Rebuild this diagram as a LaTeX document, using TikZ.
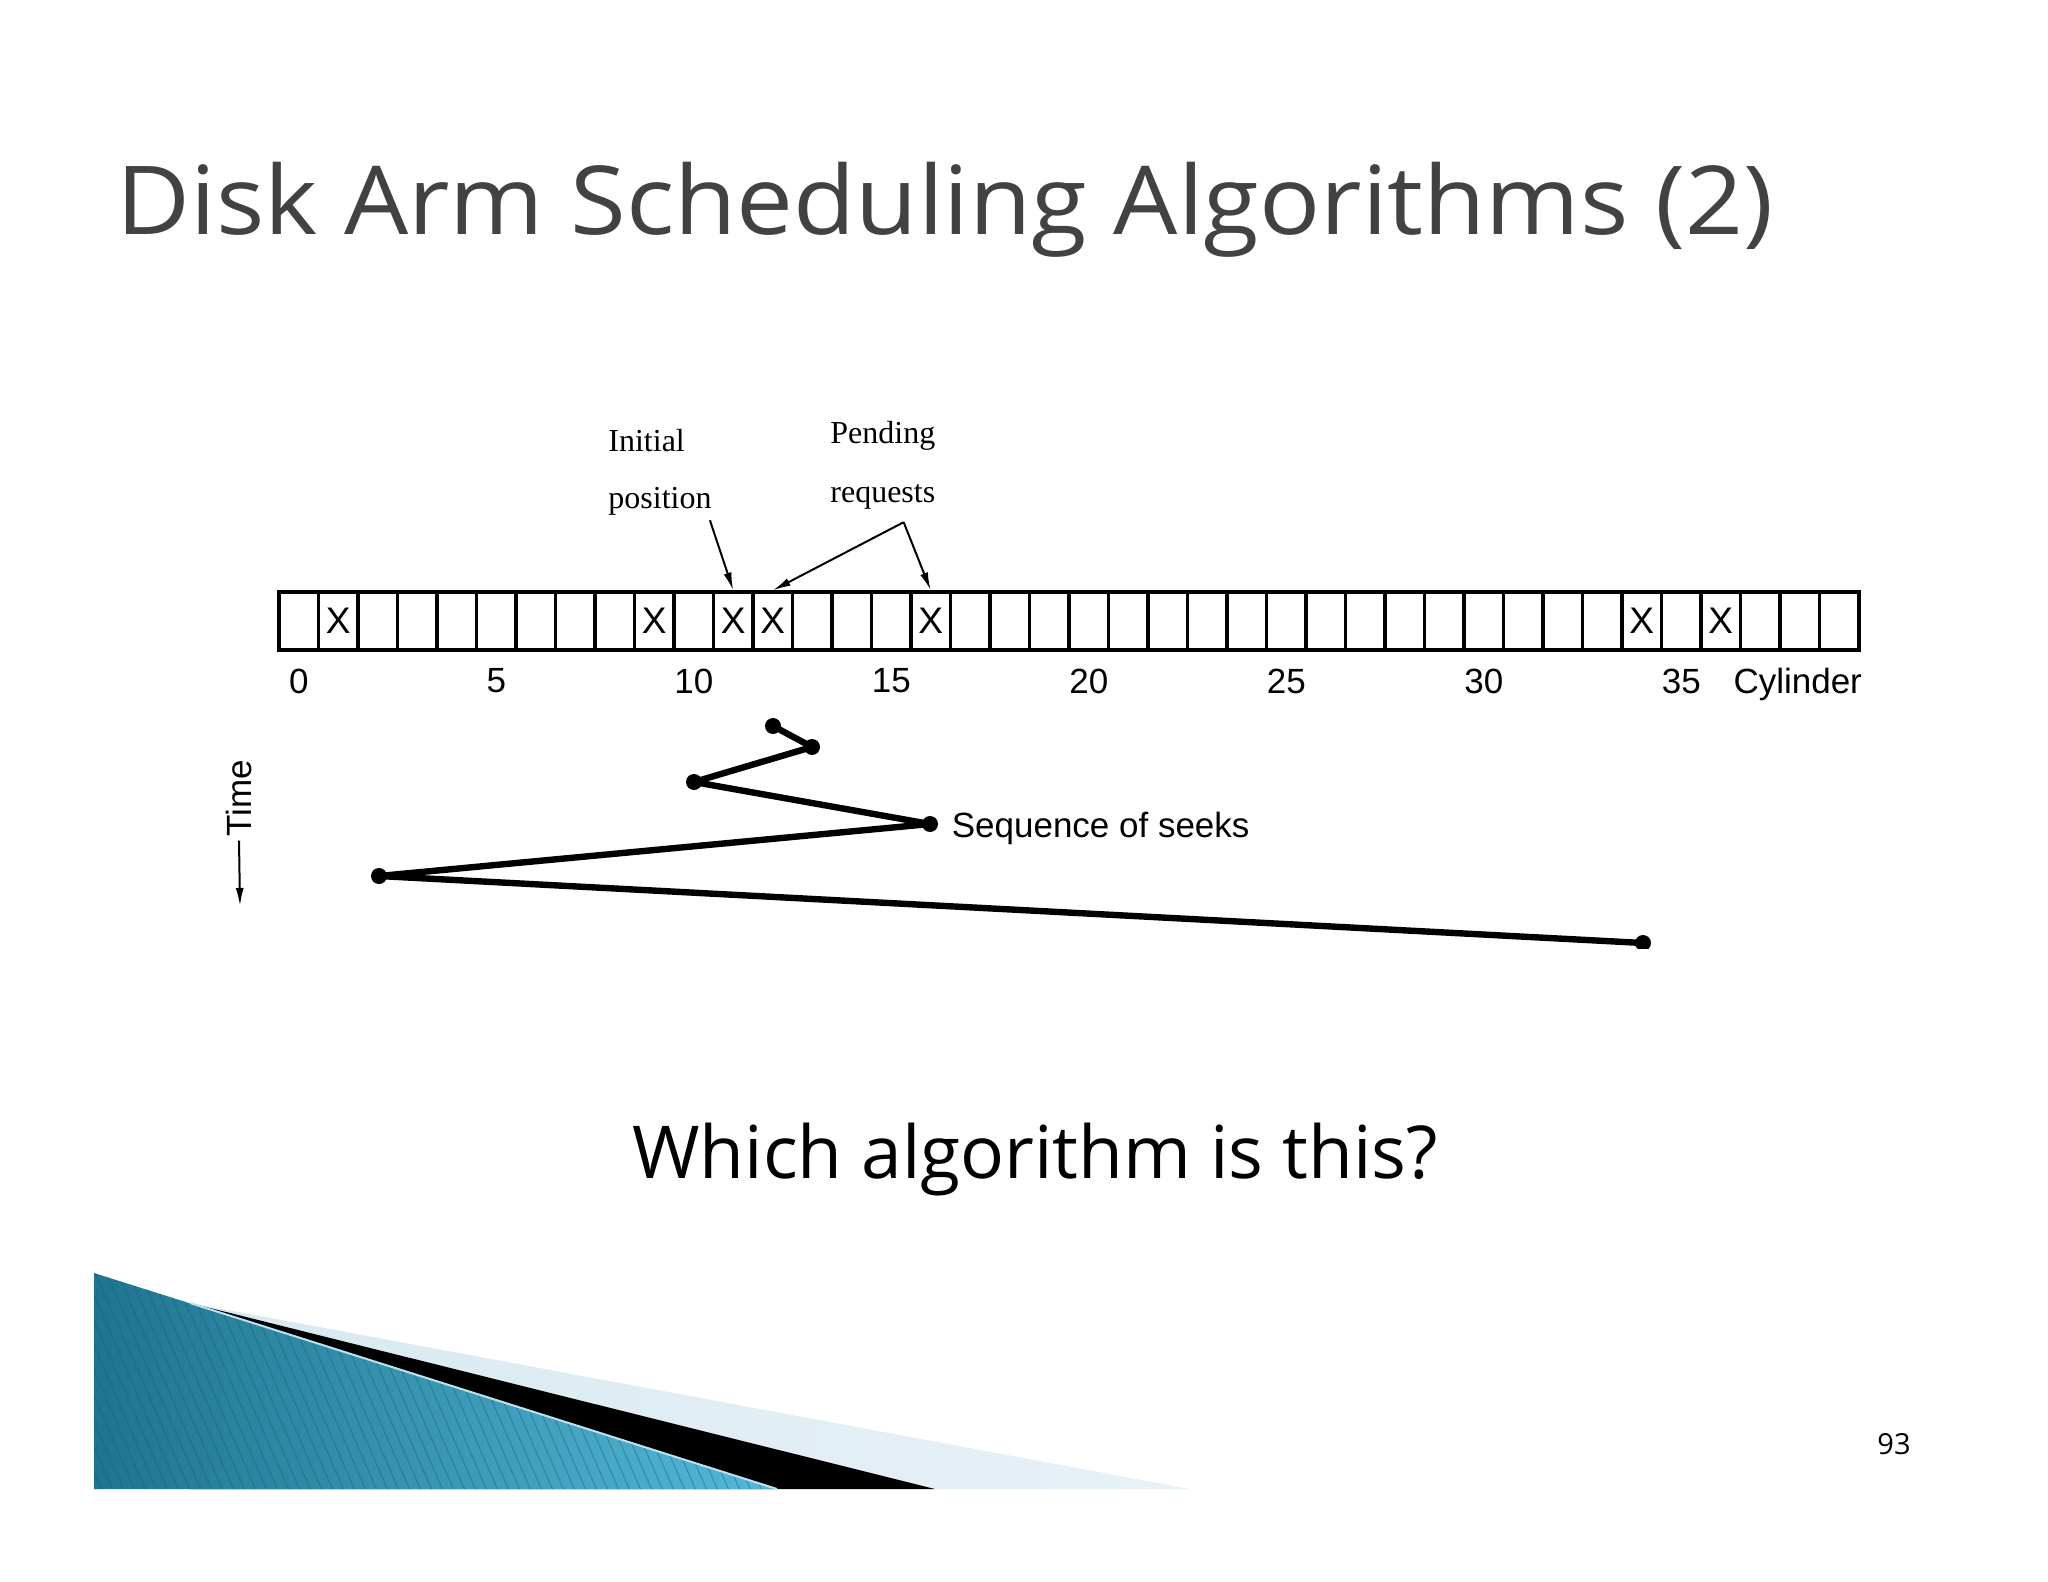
\documentclass[tikz,border=0pt]{standalone}
\usepackage{fontspec}
\usepackage{tikz}
\usetikzlibrary{matrix}
\usetikzlibrary{positioning}
\usetikzlibrary{arrows.meta}
\newfontfamily\slidefont{Open Sans}
\newfontfamily\titlefont[FakeStretch=1.066]{Open Sans}
\newfontfamily\figfont{Liberation Sans}
\newfontfamily\labfont{Liberation Serif}
\definecolor{tealdark}{HTML}{1F7590}
\definecolor{teallight}{HTML}{55B8D8}
\definecolor{palecyan}{HTML}{D8E9F1}
\definecolor{titlegray}{HTML}{424242}
\tikzset{fig/.style={font=\figfont\fontsize{17.5}{21}\selectfont, inner sep=2pt}}
\tikzset{lbl/.style={font=\labfont\fontsize{16}{19}\selectfont, inner sep=2pt}}
\tikzset{arr/.style={-{Latex[length=9pt,width=4pt]}, line width=1pt}}
\tikzset{dot/.style={circle, fill, inner sep=0pt, minimum size=8pt}}
\tikzset{seek/.style={line width=3.2pt, line join=round}}
\tikzset{cyl/.style = {
   matrix of nodes, nodes in empty cells,
   nodes={draw, line width=1.6pt, minimum width=19.75pt, minimum height=29pt,
          inner sep=0pt, anchor=center, font=\figfont\fontsize{18.5}{22}\selectfont},
   column sep=-1.6pt,
   inner sep=0pt, anchor=west
}}

\begin{document}
\begin{tikzpicture}[x=0.5pt, y=-0.5pt]

    \fill[white] (0,0) rectangle (2048,1582);
    \useasboundingbox (0,0) rectangle (2048,1582);

    \node[anchor=base west, inner sep=0pt, text=titlegray] (title) at (116,235)
        {\titlefont\fontsize{47.6}{57}\selectfont Disk Arm Scheduling Algorithms (2)};

    \matrix[cyl] (m) at (277,621) {
      & X & & & & & & & & X
      & & X & X & & & & X & & &
      & & & & & & & & & &
      & & & & & X & & X & & & \\
    };

    \foreach \n [evaluate=\n as \col using int(\n+1)] in {0,5,...,35}
        \node[fig, below=6.3pt of m-1-\col] (n\n) {\n};
    \node[fig, base right=12pt of n35] (cyl) {Cylinder};

    % labels above the track
    \node[lbl, anchor=base west] (init1) at (604,452) {Initial};
    \node[lbl, anchor=base west] (init2) at (604,509) {position};
    \node[lbl, anchor=base west] (req1) at (826,444) {Pending};
    \node[lbl, anchor=base west] (req2) at (826,503) {requests};
    \coordinate (fork) at ([xshift=-18pt,yshift=-4pt]req2.south east);

    \draw[arr] ([xshift=-3pt]init2.south east) -- (m-1-12.north);
    \draw[arr] (fork) -- (m-1-13.north);
    \draw[arr] (fork) -- (m-1-17.north);

    % time axis
    \node[fig, rotate=90] (time) at (239,798) {Time};
    \coordinate (tend) at (240,906);
    \draw[arr] (time.west) -- (tend);

    % seeks
    \begin{scope}
      \clip (0,0) rectangle (2048,948);
      \node[dot] (s0) at (773,726) {};
      \node[dot] (s1) at (812,747) {};
      \node[dot] (s2) at (694,782) {};
      \node[dot] (s3) at (930,824) {};
      \node[dot] (s4) at (379,876) {};
      \node[dot] (s5) at (1643,943) {};
      \draw[seek] (s0.center) -- (s1.center) -- (s2.center) -- (s3.center)
                  -- (s4.center) -- (s5.center);
    \end{scope}
    \node[fig, right=4.5pt of s3, yshift=-2pt] (seq) {Sequence of seeks};

    \node[anchor=base, inner sep=0pt] (quest) at (1035,1178)
        {\slidefont\fontsize{36.5}{44}\selectfont Which algorithm is this?};

    \node (page) at (1894,1444) {\slidefont\fontsize{14.5}{17}\selectfont 93};

    % corner decoration
    \shade[left color=palecyan, right color=palecyan!60!white]
        (190,1303) -- (1190,1489) -- (190,1489) -- cycle;
    \fill[black] (190,1303) -- (935,1489) -- (190,1489) -- cycle;
    \begin{scope}
      \clip (94,1273) -- (777,1489) -- (94,1489) -- cycle;
      \shade[left color=tealdark, right color=teallight] (94,1273) rectangle (777,1489);
      \foreach \i in {0,...,80}
          \draw[tealdark!80!black, line width=0.5pt, opacity=0.45] (\i*11-40,1265) -- ++(100,230);
    \end{scope}
    \draw[teallight!40!white, line width=1pt] (190,1303) -- (777,1489);

\end{tikzpicture}
\end{document}
